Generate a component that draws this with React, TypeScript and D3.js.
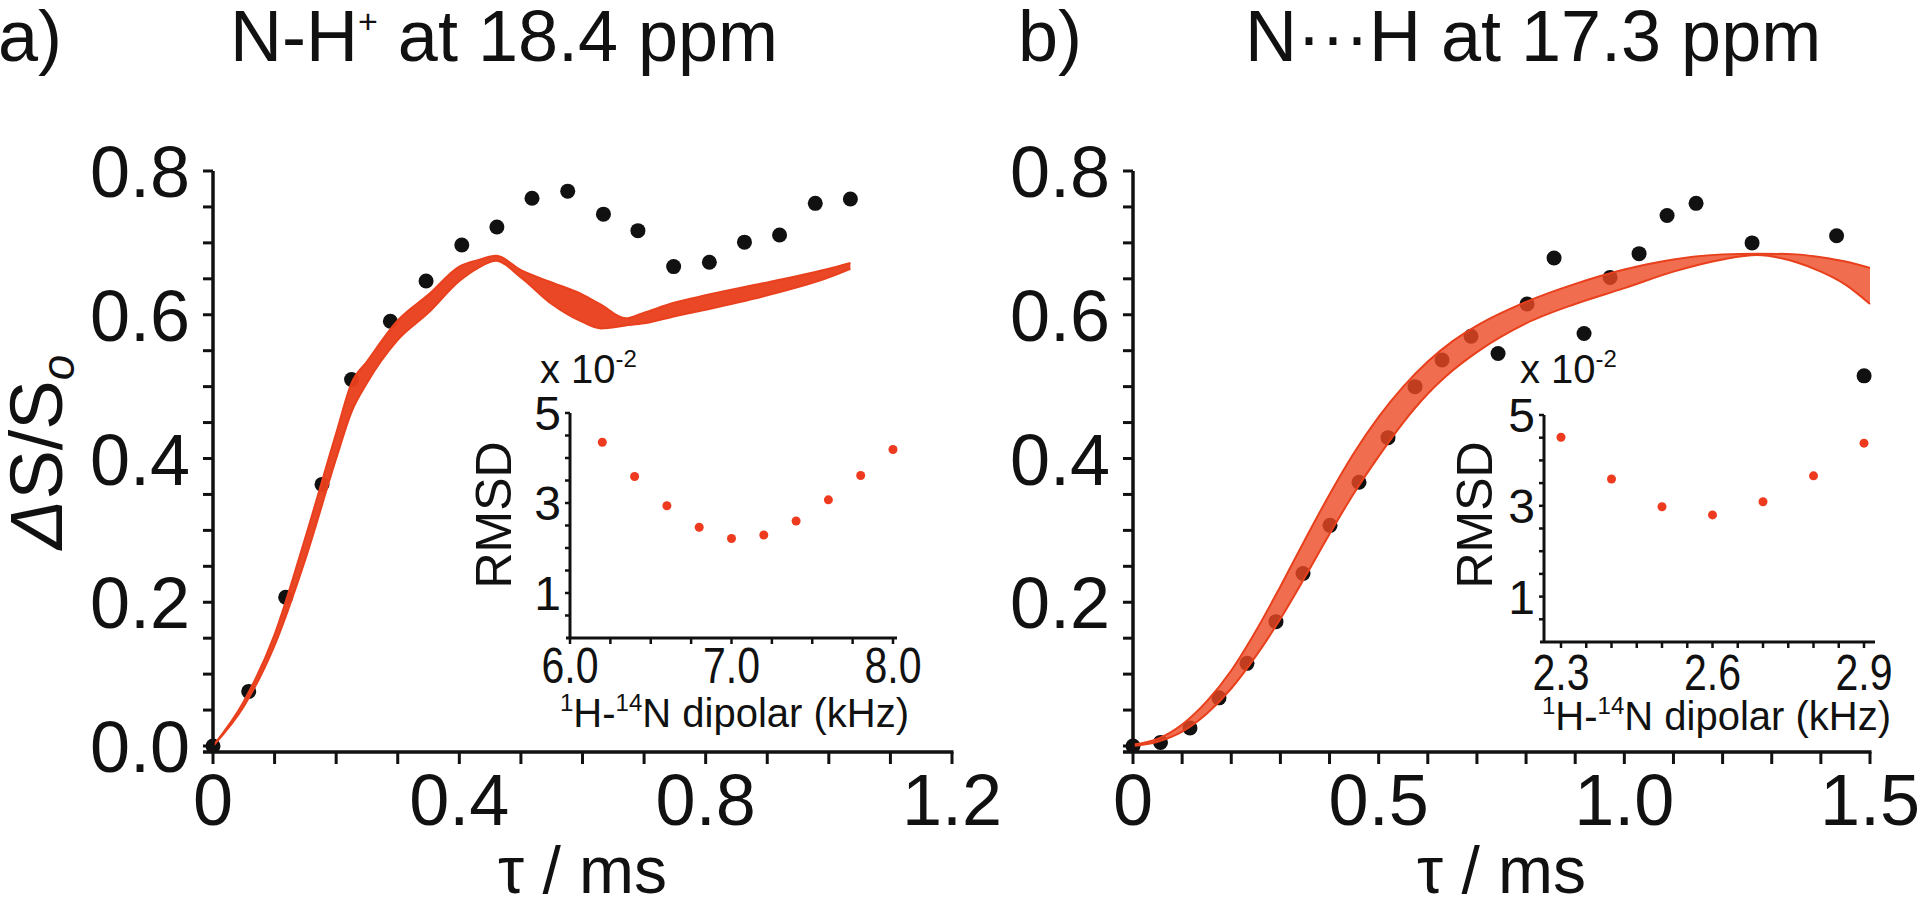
import React from 'react';
import * as d3 from 'd3';

// ---------- Panel a data ----------
const tauA = [0, 0.058, 0.118, 0.177, 0.225, 0.288, 0.346, 0.404, 0.461, 0.518, 0.576, 0.634, 0.69, 0.748, 0.806, 0.863, 0.92, 0.978, 1.035];
const dsA = [0.0, 0.076, 0.207, 0.364, 0.51, 0.591, 0.647, 0.697, 0.722, 0.762, 0.772, 0.74, 0.717, 0.667, 0.673, 0.701, 0.711, 0.755, 0.761];
const bandTauA = [0, 0.05, 0.1, 0.15, 0.2, 0.225, 0.25, 0.3, 0.35, 0.4, 0.43, 0.46, 0.5, 0.55, 0.6, 0.63, 0.67, 0.7, 0.75, 0.8, 0.9, 1.0, 1.035];
const bandUpA = [0, 0.062, 0.155, 0.29, 0.435, 0.505, 0.535, 0.592, 0.628, 0.667, 0.676, 0.682, 0.662, 0.645, 0.628, 0.614, 0.595, 0.603, 0.617, 0.627, 0.645, 0.664, 0.672];
const bandLoA = [0, 0.055, 0.14, 0.26, 0.4, 0.465, 0.505, 0.565, 0.603, 0.647, 0.665, 0.675, 0.652, 0.615, 0.59, 0.581, 0.585, 0.588, 0.598, 0.607, 0.627, 0.652, 0.664];
const xTicksA = [0, 0.4, 0.8, 1.2];
const yTicksA = [0, 0.2, 0.4, 0.6, 0.8];

// ---------- Panel b data ----------
const tauB = [0, 0.056, 0.116, 0.175, 0.232, 0.291, 0.346, 0.401, 0.46, 0.519, 0.574, 0.629, 0.688, 0.743, 0.802, 0.857, 0.918, 0.971, 1.03, 1.087, 1.146, 1.26, 1.432, 1.488];
const dsB = [0.0, 0.005, 0.025, 0.067, 0.115, 0.173, 0.24, 0.307, 0.367, 0.429, 0.5, 0.537, 0.57, 0.546, 0.615, 0.679, 0.574, 0.652, 0.685, 0.738, 0.755, 0.7, 0.71, 0.515];
const bandTauB = [0, 0.05, 0.1, 0.15, 0.2, 0.25, 0.3, 0.35, 0.4, 0.45, 0.5, 0.55, 0.6, 0.65, 0.7, 0.8, 0.9, 1.0, 1.1, 1.2, 1.27, 1.35, 1.4, 1.45, 1.5];
const bandUpB = [0.002, 0.01, 0.03, 0.062, 0.105, 0.16, 0.222, 0.287, 0.35, 0.408, 0.458, 0.5, 0.535, 0.563, 0.585, 0.618, 0.643, 0.663, 0.677, 0.684, 0.685, 0.684, 0.68, 0.674, 0.665];
const bandLoB = [0, 0.006, 0.02, 0.045, 0.08, 0.125, 0.177, 0.235, 0.295, 0.352, 0.403, 0.45, 0.49, 0.522, 0.548, 0.588, 0.615, 0.637, 0.66, 0.677, 0.683, 0.673, 0.66, 0.642, 0.615];
const xTicksB = [0, 0.5, 1.0, 1.5];
const yTicksB = [0.2, 0.4, 0.6, 0.8];

// ---------- Insets ----------
const dipA = [6.2, 6.4, 6.6, 6.8, 7.0, 7.2, 7.4, 7.6, 7.8, 8.0];
const rmsdA = [4.35, 3.59, 2.94, 2.46, 2.21, 2.29, 2.6, 3.07, 3.61, 4.19];
const dipTicksA = [6.0, 7.0, 8.0];
const dipB = [2.3, 2.4, 2.5, 2.6, 2.7, 2.8, 2.9];
const rmsdB = [4.51, 3.59, 2.98, 2.8, 3.09, 3.66, 4.38];
const dipTicksB = [2.3, 2.6, 2.9];
const rmsdTicks = [1, 3, 5];

const RED = '#e9401d';
const FONT = '"Liberation Sans", Arial, Helvetica, sans-serif';

type MainProps = {
  x0: number; x1: number; xMax: number; minorStep: number;
  tau: number[]; ds: number[];
  bTau: number[]; bUp: number[]; bLo: number[];
  xTicks: number[]; yTicks: number[]; bandOpacity: number; bandFill: string; edge: string;
};

function MainPanel(p: MainProps) {
  const x = d3.scaleLinear().domain([0, p.xMax]).range([p.x0, p.x1]);
  const y = d3.scaleLinear().domain([0, 0.8]).range([746, 171]);
  const axisY = 752;
  const idx = p.bTau.map((_, i) => i);
  const area = d3.area<number>()
    .x((i) => x(p.bTau[i]))
    .y0((i) => y(p.bLo[i]))
    .y1((i) => y(p.bUp[i]))
    .curve(d3.curveMonotoneX);
  const upLine = d3.line<number>().x((i) => x(p.bTau[i])).y((i) => y(p.bUp[i])).curve(d3.curveMonotoneX);
  const loLine = d3.line<number>().x((i) => x(p.bTau[i])).y((i) => y(p.bLo[i])).curve(d3.curveMonotoneX);
  const minorX = d3.range(0, p.xMax + 1e-9, p.minorStep);
  const minorY = d3.range(0, 0.8 + 1e-9, 0.05);
  const fmt = d3.format('.1f');
  return (
    <g>
      {p.tau.map((t, i) => (
        <circle key={'d' + i} cx={x(t)} cy={y(p.ds[i])} r={7.5} fill="#111" />
      ))}
      <path d={area(idx) || ''} fill={p.bandFill} fillOpacity={p.bandOpacity} stroke="none" />
      <path d={upLine(idx) || ''} fill="none" stroke={p.edge} strokeWidth={2} />
      <path d={loLine(idx) || ''} fill="none" stroke={p.edge} strokeWidth={2} />
      <line x1={p.x0} x2={p.x0} y1={axisY} y2={171} stroke="#111" strokeWidth={3.5} />
      <line x1={p.x0 - 10} x2={p.x1 + 1.5} y1={axisY} y2={axisY} stroke="#111" strokeWidth={3.5} />
      {minorX.map((v, i) => (
        <line key={'xt' + i} x1={x(v)} x2={x(v)} y1={axisY} y2={axisY + 12} stroke="#111" strokeWidth={3} />
      ))}
      {minorY.map((v, i) => (
        <line key={'yt' + i} x1={p.x0} x2={p.x0 - 10} y1={y(v)} y2={y(v)} stroke="#111" strokeWidth={3} />
      ))}
      {p.xTicks.map((v, i) => (
        <text key={'xl' + i} x={x(v)} y={825} textAnchor="middle" fontSize={72} fontFamily={FONT} fill="#111">
          {v === 0 ? '0' : fmt(v)}
        </text>
      ))}
      {p.yTicks.map((v, i) => (
        <text key={'yl' + i} x={p.x0 - 23} y={y(v) + 26} textAnchor="end" fontSize={72} fontFamily={FONT} fill="#111">
          {fmt(v)}
        </text>
      ))}
      <text x={(p.x0 + p.x1) / 2} y={893} textAnchor="middle" fontSize={66} fontFamily={FONT} fill="#111">τ / ms</text>
    </g>
  );
}

type InsetProps = {
  ax: number; axEnd: number; ay: number; yTop: number;
  dMin: number; dMax: number; dMinPx: number; dMaxPx: number; tickStep: number; tickStart: number;
  dip: number[]; rmsd: number[]; dipTicks: number[];
  tickBase: number; labBase: number; labX: number; expX: number; rmsdX: number;
};

function Inset(p: InsetProps) {
  const x = d3.scaleLinear().domain([p.dMin, p.dMax]).range([p.dMinPx, p.dMaxPx]);
  const y = d3.scaleLinear().domain([0, 5]).range([p.ay, p.yTop]);
  const xt = d3.range(p.tickStart, p.dMax + 0.03, p.tickStep);
  const yt = d3.range(0.5, 5.01, 0.5);
  return (
    <g fontFamily={FONT} fill="#111">
      <line x1={p.ax} x2={p.ax} y1={p.ay} y2={p.yTop} stroke="#111" strokeWidth={3} />
      <line x1={p.ax - 4} x2={p.axEnd} y1={p.ay} y2={p.ay} stroke="#111" strokeWidth={3} />
      {xt.map((v, i) => (
        <line key={'t' + i} x1={x(v)} x2={x(v)} y1={p.ay} y2={p.ay + 6} stroke="#111" strokeWidth={2.5} />
      ))}
      {yt.map((v, i) => (
        <line key={'u' + i} x1={p.ax} x2={p.ax - 5} y1={y(v)} y2={y(v)} stroke="#111" strokeWidth={2.5} />
      ))}
      {p.dip.map((d, i) => (
        <circle key={'p' + i} cx={x(d)} cy={y(p.rmsd[i])} r={4.5} fill="#ee3b1f" />
      ))}
      {p.dipTicks.map((v, i) => (
        <text key={'l' + i} x={x(v)} y={p.tickBase} textAnchor="middle" fontSize={50}
          textLength={57} lengthAdjust="spacingAndGlyphs">{v.toFixed(1)}</text>
      ))}
      {rmsdTicks.map((v, i) => (
        <text key={'r' + i} x={p.ax - 9} y={y(v) + 17} textAnchor="end" fontSize={48}>{v}</text>
      ))}
      <text transform={`translate(${p.rmsdX},515) rotate(-90)`} textAnchor="middle" fontSize={50}>RMSD</text>
      <text x={p.expX} y={383} fontSize={40}>
        x 10<tspan fontSize={24} dy={-16}>-2</tspan>
      </text>
      <text x={p.labX} y={p.labBase} fontSize={40}>
        <tspan fontSize={24} dy={-16}>1</tspan>
        <tspan dy={16}>H-</tspan>
        <tspan fontSize={24} dy={-16}>14</tspan>
        <tspan dy={16}>N dipolar (kHz)</tspan>
      </text>
    </g>
  );
}

export default function App() {
  return (
    <svg width={1920} height={902} style={{ position: 'absolute', left: 0, top: 0, background: '#fff' }}>
      <rect width={1920} height={902} fill="#fff" />
      {/* Titles */}
      <text x={-2} y={61} fontSize={72} fontFamily={FONT} fill="#111">a)</text>
      <text x={230} y={61} fontSize={72} fontFamily={FONT} fill="#111">
        N-H<tspan fontSize={34} dy={-28}>+</tspan><tspan dy={28}> at 18.4 ppm</tspan>
      </text>
      <text x={1018} y={61} fontSize={72} fontFamily={FONT} fill="#111">b)</text>
      <text x={1245} y={61} fontSize={72} fontFamily={FONT} fill="#111">N···H at 17.3 ppm</text>

      {/* y-axis title */}
      <text transform="translate(62,452) rotate(-90)" textAnchor="middle" fontSize={74} fontFamily={FONT} fill="#111">
        <tspan fontStyle="italic">Δ</tspan>S/S<tspan fontSize={46} fontStyle="italic" dy={12}>o</tspan>
      </text>

      <MainPanel x0={213} x1={952} xMax={1.2} minorStep={0.1}
        tau={tauA} ds={dsA} bTau={bandTauA} bUp={bandUpA} bLo={bandLoA}
        xTicks={xTicksA} yTicks={yTicksA} bandOpacity={0.96} bandFill={RED} edge={RED} />
      <MainPanel x0={1133} x1={1870} xMax={1.5} minorStep={0.1}
        tau={tauB} ds={dsB} bTau={bandTauB} bUp={bandUpB} bLo={bandLoB}
        xTicks={xTicksB} yTicks={yTicksB} bandOpacity={0.8} bandFill="#ec4824" edge="#e8401c" />

      <Inset ax={570} axEnd={897} ay={638} yTop={413}
        dMin={6.0} dMax={8.0} dMinPx={570} dMaxPx={893} tickStep={0.25} tickStart={6.0}
        dip={dipA} rmsd={rmsdA} dipTicks={dipTicksA}
        tickBase={683} labBase={727} labX={560} expX={540} rmsdX={511} />
      <Inset ax={1544} axEnd={1875} ay={642} yTop={415}
        dMin={2.3} dMax={2.9} dMinPx={1561} dMaxPx={1864} tickStep={0.05} tickStart={2.3}
        dip={dipB} rmsd={rmsdB} dipTicks={dipTicksB}
        tickBase={690} labBase={730} labX={1542} expX={1520} rmsdX={1492} />
    </svg>
  );
}
